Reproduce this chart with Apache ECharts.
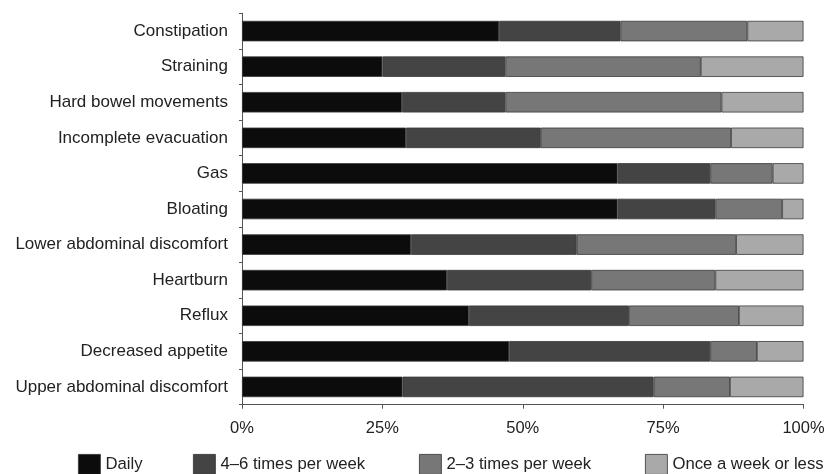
<!DOCTYPE html>
<html>
<head>
<meta charset="utf-8">
<script src="https://cdn.jsdelivr.net/npm/echarts@6/dist/echarts.min.js"></script>
<style>
html,body{margin:0;padding:0;background:#fff;}
#chart{width:828px;height:474px;}
</style>
</head>
<body>
<div id="chart"></div>
<script>
var categories = ["Constipation","Straining","Hard bowel movements","Incomplete evacuation","Gas","Bloating","Lower abdominal discomfort","Heartburn","Reflux","Decreased appetite","Upper abdominal discomfort"];
var seriesNames = ["Daily","4\u20136 times per week","2\u20133 times per week","Once a week or less"];
var daily = [45.8, 25.0, 28.5, 29.2, 66.9, 66.9, 30.1, 36.5, 40.4, 47.6, 28.6];
var perWeek46 = [21.6, 21.9, 18.4, 24.0, 16.5, 17.4, 29.5, 25.7, 28.5, 35.8, 44.7];
var perWeek23 = [22.6, 34.8, 38.5, 33.9, 11.1, 11.9, 28.4, 22.1, 19.6, 8.3, 13.6];
var onceOrLess = [10.0, 18.3, 14.6, 12.9, 5.5, 3.8, 12.0, 15.7, 11.5, 8.3, 13.1];
var xTicks = [0, 25, 50, 75, 100];

var colors = ["#0c0c0c", "#444444", "#777777", "#a9a9a9"];
var values = [daily, perWeek46, perWeek23, onceOrLess];
var legendLeft = [78, 193, 419, 645];
var font = "'Liberation Sans', Arial, Helvetica, sans-serif";

var chart = echarts.init(document.getElementById('chart'));
var series = seriesNames.map(function(n, i){
  return {
    name: n, type: 'bar', stack: 'all', barWidth: 20.5,
    itemStyle: {color: colors[i], borderColor: '#3a3a3a', borderWidth: 0.8},
    data: values[i]
  };
});
var legends = seriesNames.map(function(n, i){
  return {
    data: [n], left: legendLeft[i], top: 454, padding: 0,
    itemWidth: 22, itemHeight: 20, itemGap: 8,
    icon: 'rect', selectedMode: false,
    itemStyle: {borderColor: '#333', borderWidth: 0.8},
    textStyle: {fontFamily: font, fontSize: 16.7, color: '#222', padding: [1,0,0,0]}
  };
});
chart.setOption({
  animation: false,
  backgroundColor: '#ffffff',
  grid: {left: 242, right: 24.5, top: 13.3, bottom: 69.3, containLabel: false},
  legend: legends,
  xAxis: {
    type: 'value', min: xTicks[0], max: xTicks[xTicks.length-1], interval: 25,
    axisLine: {show: true, lineStyle: {color: '#555', width: 1}},
    axisTick: {show: true, length: 4, lineStyle: {color: '#555'}},
    splitLine: {show: false},
    axisLabel: {formatter: '{value}%', fontFamily: font, fontSize: 16.5, color: '#222', margin: 15}
  },
  yAxis: {
    type: 'category', data: categories, inverse: true,
    axisLine: {show: true, lineStyle: {color: '#555', width: 1}},
    axisTick: {show: true, length: 3, lineStyle: {color: '#555'}},
    axisLabel: {fontFamily: font, fontSize: 17, color: '#222', margin: 14}
  },
  series: series
});
</script>
</body>
</html>
